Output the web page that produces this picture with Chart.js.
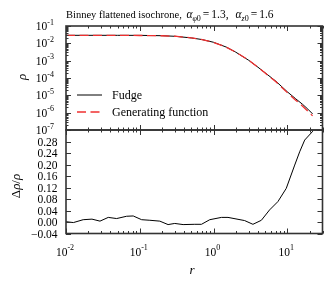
<!DOCTYPE html>
<html>
<head>
<meta charset="utf-8">
<script src="https://cdn.jsdelivr.net/npm/chart.js@4.4.1/dist/chart.umd.min.js"></script>
<style>
  body { margin: 0; background: #fff; }
  #wrap { position: relative; width: 333px; height: 285px; }
  canvas { position: absolute; left: 0; top: 0; }
</style>
</head>
<body>
<div id="wrap">
  <canvas id="top" width="333" height="285"></canvas>
  <canvas id="bottom" width="333" height="285"></canvas>
</div>
<script>
// density profile, upper panel
const rRho = [0.01, 0.02, 0.05, 0.1, 0.2, 0.3, 0.5, 0.7, 1, 1.5, 2, 3, 4, 5, 7, 10, 13, 16, 19, 22]
const rhoFudge = [0.029, 0.029, 0.029, 0.0288, 0.0275, 0.0255, 0.0205, 0.0165, 0.0115, 0.0060, 0.0031,
  0.00105, 4.2e-4, 2.0e-4, 6.5e-5, 1.6e-5, 6.3e-6, 3.1e-6, 1.6e-6, 8.5e-7]
const rhoGen = [0.029, 0.029, 0.0287, 0.0284, 0.0274, 0.0257, 0.0207, 0.0164, 0.0113, 0.0059, 0.00309,
  0.00106, 4.18e-4, 1.94e-4, 6.1e-5, 1.43e-5, 5.25e-6, 2.45e-6, 1.23e-6, 6.5e-7]

// relative difference, lower panel
const rDiff = [0.01, 0.0126, 0.0171, 0.0225, 0.0289, 0.0374, 0.0486, 0.0663, 0.0815, 0.106, 0.137, 0.187,
  0.242, 0.298, 0.387, 0.557, 0.686, 0.889, 1.28, 1.57, 2.64, 3.42, 4.45, 5.75, 7.46, 9.68, 12.6, 14.7, 17.2, 22.2]
const diffVals = [0.001, -0.002, 0.008, 0.010, 0.003, 0.016, 0.012, 0.020, 0.021, 0.008, 0.006, 0.003,
  -0.009, -0.005, -0.009, -0.008, -0.008, 0.008, 0.016, 0.016, 0.005, -0.008, 0.006, 0.042, 0.071, 0.117,
  0.198, 0.244, 0.285, 0.316]

// tick labels
const xTickExps = [-2, -1, 0, 1]
const rhoTickExps = [-1, -2, -3, -4, -5, -6, -7]
const diffTicks = [-0.04, 0.00, 0.04, 0.08, 0.12, 0.16, 0.20, 0.24, 0.28]

const SERIF = '"Liberation Serif", "DejaVu Serif", serif'
const FRAME = '#333'

const pts = (xs, ys) => xs.map((x, i) => ({ x, y: ys[i] }))

// tick values on a log axis: 1..9 x 10^n
const logTicks = (min, max) => {
  const out = []
  for (let d = Math.floor(Math.log10(min)); d <= Math.ceil(Math.log10(max)); d++) {
    for (let k = 1; k <= 9; k++) {
      const v = k * Math.pow(10, d)
      if (v >= min * 0.999 && v <= max * 1.001) out.push({ v, major: k === 1 })
    }
  }
  return out
}

// "10" with a raised exponent
const powLabel = (ctx, exp, x, y, align) => {
  ctx.font = '11.5px ' + SERIF
  const w1 = ctx.measureText('10').width
  const e = exp < 0 ? '-' + (-exp) : String(exp)
  ctx.font = '8px ' + SERIF
  const w2 = ctx.measureText(e).width
  let x0 = x
  if (align === 'right') x0 = x - w1 - w2
  if (align === 'center') x0 = x - (w1 + w2) / 2
  ctx.textAlign = 'left'
  ctx.textBaseline = 'middle'
  ctx.font = '11.5px ' + SERIF
  ctx.fillText('10', x0, y)
  ctx.font = '8px ' + SERIF
  ctx.fillText(e, x0 + w1, y - 4.5)
}

const drawTicksX = (ctx, scale, area) => {
  ctx.beginPath()
  logTicks(scale.min, scale.max).forEach(t => {
    const px = Math.round(scale.getPixelForValue(t.v)) + 0.5
    const len = t.major ? 5 : 2.5
    ctx.moveTo(px, area.bottom); ctx.lineTo(px, area.bottom - len)
    ctx.moveTo(px, area.top); ctx.lineTo(px, area.top + len)
  })
  ctx.stroke()
}

const drawFrame = (ctx, area) => {
  ctx.strokeStyle = FRAME
  ctx.lineWidth = 1.6
  ctx.strokeRect(area.left, area.top, area.right - area.left, area.bottom - area.top)
  ctx.lineWidth = 1
}

const topDecor = {
  id: 'topDecor',
  afterDraw(chart) {
    const { ctx, chartArea: a, scales } = chart
    ctx.save()
    ctx.fillStyle = '#000'
    ctx.strokeStyle = FRAME
    ctx.lineWidth = 1
    drawTicksX(ctx, scales.x, a)
    // y ticks, both sides
    ctx.beginPath()
    logTicks(scales.y.min, scales.y.max).forEach(t => {
      const py = Math.round(scales.y.getPixelForValue(t.v)) + 0.5
      const len = t.major ? 5 : 2.5
      ctx.moveTo(a.left, py); ctx.lineTo(a.left + len, py)
      ctx.moveTo(a.right, py); ctx.lineTo(a.right - len, py)
    })
    ctx.stroke()
    drawFrame(ctx, a)

    rhoTickExps.forEach(e => powLabel(ctx, e, 54, scales.y.getPixelForValue(Math.pow(10, e)) + 1, 'right'))

    // axis label
    ctx.save()
    ctx.translate(23, 77)
    ctx.rotate(-Math.PI / 2)
    ctx.font = 'italic 13px ' + SERIF
    ctx.textAlign = 'center'
    ctx.textBaseline = 'middle'
    ctx.fillText('ρ', 0, 0)
    ctx.restore()

    // title with subscripts
    let x = 66
    const y = 17.5
    const part = (txt, font, dy) => {
      ctx.font = font
      ctx.textAlign = 'left'
      ctx.textBaseline = 'alphabetic'
      ctx.fillText(txt, x, y + (dy || 0))
      x += ctx.measureText(txt).width
    }
    const gap = w => { x += w }
    const f = '10.5px ' + SERIF, fm = '11.5px ' + SERIF, fi = 'italic 11.5px ' + SERIF
    const fs = 'italic 8px ' + SERIF, fsn = '8px ' + SERIF
    part('Binney flattened isochrone, ', f)
    gap(2)
    part('α', fi); part('φ', fs, 3); part('0', fsn, 3); gap(2); part('=', fm); gap(2); part('1.3,', fm)
    gap(7)
    part('α', fi); part('z', fs, 3); part('0', fsn, 3); gap(2); part('=', fm); gap(2); part('1.6', fm)

    // legend from the datasets
    const rows = [95, 112]
    chart.data.datasets.forEach((ds, i) => {
      ctx.strokeStyle = ds.borderColor
      ctx.lineWidth = ds.borderWidth
      ctx.setLineDash(ds.borderDash || [])
      ctx.beginPath()
      ctx.moveTo(77, rows[i]); ctx.lineTo(102, rows[i])
      ctx.stroke()
      ctx.setLineDash([])
      ctx.font = '12px ' + SERIF
      ctx.fillStyle = '#000'
      ctx.textAlign = 'left'
      ctx.textBaseline = 'middle'
      ctx.fillText(ds.label, 112, rows[i] + 0.5)
    })
    ctx.restore()
  }
}

const bottomDecor = {
  id: 'bottomDecor',
  afterDraw(chart) {
    const { ctx, chartArea: a, scales } = chart
    ctx.save()
    ctx.fillStyle = '#000'
    ctx.strokeStyle = FRAME
    ctx.lineWidth = 1
    drawTicksX(ctx, scales.x, a)
    ctx.beginPath()
    diffTicks.concat([0.32]).forEach(v => {
      const py = Math.round(scales.y.getPixelForValue(v)) + 0.5
      ctx.moveTo(a.left, py); ctx.lineTo(a.left + 5, py)
      ctx.moveTo(a.right, py); ctx.lineTo(a.right - 5, py)
    })
    ctx.stroke()
    drawFrame(ctx, a)

    ctx.font = '11.5px ' + SERIF
    ctx.textAlign = 'right'
    ctx.textBaseline = 'middle'
    diffTicks.forEach(v => {
      const s = (v < 0 ? '\u2212' : '') + Math.abs(v).toFixed(2)
      ctx.fillText(s, 57.5, scales.y.getPixelForValue(v) + 1)
    })

    xTickExps.forEach(e => powLabel(ctx, e, scales.x.getPixelForValue(Math.pow(10, e)) - 1, 252.5, 'center'))

    ctx.font = 'italic 13px ' + SERIF
    ctx.textAlign = 'center'
    ctx.textBaseline = 'middle'
    ctx.fillText('r', 192, 271)

    ctx.save()
    ctx.translate(17, 186)
    ctx.rotate(-Math.PI / 2)
    ctx.textBaseline = 'middle'
    ctx.textAlign = 'left'
    const pieces = [['Δ', '13px '], ['ρ', 'italic 13px '], ['/', '13px '], ['ρ', 'italic 13px ']]
    let w = 0
    pieces.forEach(p => { ctx.font = p[1] + SERIF; w += ctx.measureText(p[0]).width })
    let x = -w / 2
    pieces.forEach(p => { ctx.font = p[1] + SERIF; ctx.fillText(p[0], x, 0); x += ctx.measureText(p[0]).width })
    ctx.restore()
    ctx.restore()
  }
}

const baseOpts = (yScale, padding) => ({
  responsive: false,
  animation: false,
  devicePixelRatio: 1,
  layout: { padding },
  plugins: { legend: { display: false }, tooltip: { enabled: false } },
  elements: { point: { radius: 0 }, line: { tension: 0 } },
  scales: {
    x: { type: 'logarithmic', min: 0.01, max: 30, display: false },
    y: Object.assign({ display: false }, yScale)
  }
})

const topChart = new Chart(document.getElementById('top'), {
  type: 'line',
  data: {
    datasets: [
      { label: 'Fudge', data: pts(rRho, rhoFudge), borderColor: '#000', borderWidth: 1, order: 1 },
      { label: 'Generating function', data: pts(rRho, rhoGen), borderColor: '#f03030', borderWidth: 1.3,
        borderDash: [9, 4.5], order: 0 }
    ]
  },
  options: baseOpts({ type: 'logarithmic', min: 1e-7, max: 1e-1 },
    { left: 66, right: 10.5, top: 26, bottom: 155 }),
  plugins: [topDecor]
})

const bottomChart = new Chart(document.getElementById('bottom'), {
  type: 'line',
  data: {
    datasets: [
      { label: 'diff', data: pts(rDiff, diffVals), borderColor: '#000', borderWidth: 1 }
    ]
  },
  options: baseOpts({ type: 'linear', min: -0.04, max: 0.32 },
    { left: 66, right: 10.5, top: 130, bottom: 51.5 }),
  plugins: [bottomDecor]
})
</script>
</body>
</html>
